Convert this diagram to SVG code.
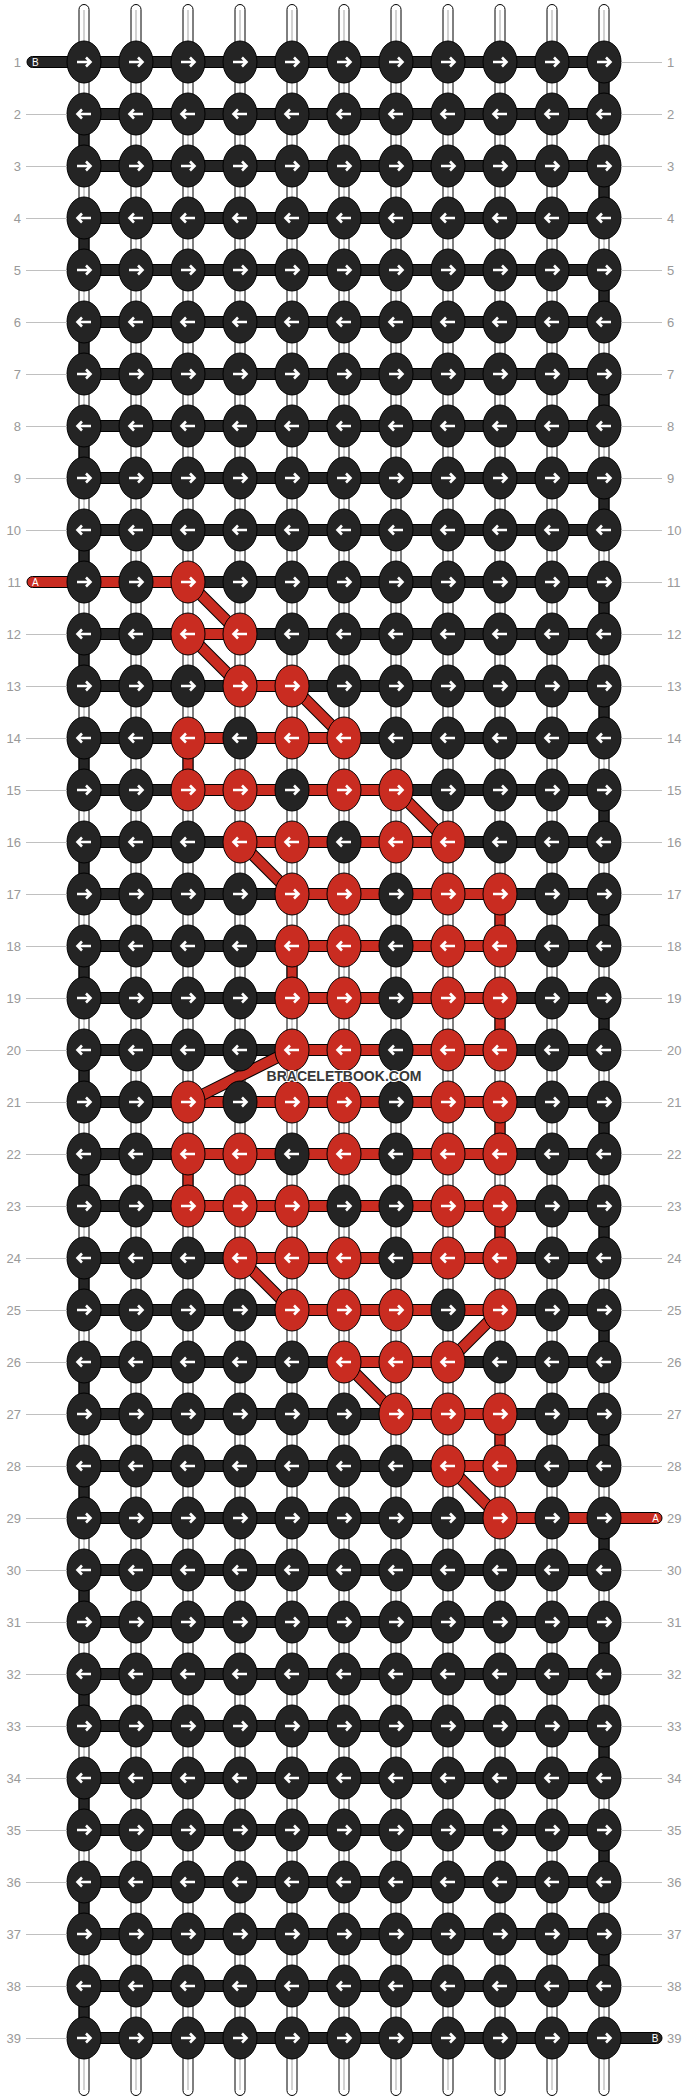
<svg xmlns="http://www.w3.org/2000/svg" xmlns:xlink="http://www.w3.org/1999/xlink" width="688" height="2100" viewBox="0 0 688 2100">
<style>
.w{fill:#fff;stroke:#000;stroke-width:1}
.gl{stroke:#c8c8c8;stroke-width:1.6}
.d{fill:#242424;stroke:#000;stroke-width:1}
.r{fill:#c92c21;stroke:#000;stroke-width:1}
.dgo{stroke:#000;stroke-width:12;fill:none}
.dgi{stroke:#c92c21;stroke-width:10;fill:none}
.ar{fill:none;stroke:#fff;stroke-width:2.6}
.n{font-family:"Liberation Sans",Arial,sans-serif;font-size:13px;fill:#999}
.nl{text-anchor:end}
.ln{stroke:#c0c0c0;stroke-width:1}
.pt{font-family:"Liberation Sans",Arial,sans-serif;font-size:10px;fill:#fff}
.wm{font-family:"Liberation Sans",Arial,sans-serif;font-weight:bold;font-size:15px;fill:#383838;stroke:#fff;stroke-width:2;paint-order:stroke;text-anchor:middle}
</style>
<defs>
<path id="aR" class="ar" d="M-7 0H6.5M2-4.5L6.5 0L2 4.5"/>
<path id="aL" class="ar" d="M7 0H-6.5M-2-4.5L-6.5 0L-2 4.5"/>
<g id="dR"><ellipse class="d" rx="17" ry="21"/><use href="#aR"/></g>
<g id="dL"><ellipse class="d" rx="17" ry="21"/><use href="#aL"/></g>
<g id="rR"><ellipse class="r" rx="17" ry="21"/><use href="#aR"/></g>
<g id="rL"><ellipse class="r" rx="17" ry="21"/><use href="#aL"/></g>
</defs>
<g id="warps">
<rect class="w" x="79" y="4.5" width="10" height="2091" rx="5"/>
<rect class="w" x="131" y="4.5" width="10" height="2091" rx="5"/>
<rect class="w" x="183" y="4.5" width="10" height="2091" rx="5"/>
<rect class="w" x="235" y="4.5" width="10" height="2091" rx="5"/>
<rect class="w" x="287" y="4.5" width="10" height="2091" rx="5"/>
<rect class="w" x="339" y="4.5" width="10" height="2091" rx="5"/>
<rect class="w" x="391" y="4.5" width="10" height="2091" rx="5"/>
<rect class="w" x="443" y="4.5" width="10" height="2091" rx="5"/>
<rect class="w" x="495" y="4.5" width="10" height="2091" rx="5"/>
<rect class="w" x="547" y="4.5" width="10" height="2091" rx="5"/>
<rect class="w" x="599" y="4.5" width="10" height="2091" rx="5"/>
<line class="gl" x1="84" y1="10" x2="84" y2="2090"/>
<line class="gl" x1="136" y1="10" x2="136" y2="2090"/>
<line class="gl" x1="188" y1="10" x2="188" y2="2090"/>
<line class="gl" x1="240" y1="10" x2="240" y2="2090"/>
<line class="gl" x1="292" y1="10" x2="292" y2="2090"/>
<line class="gl" x1="344" y1="10" x2="344" y2="2090"/>
<line class="gl" x1="396" y1="10" x2="396" y2="2090"/>
<line class="gl" x1="448" y1="10" x2="448" y2="2090"/>
<line class="gl" x1="500" y1="10" x2="500" y2="2090"/>
<line class="gl" x1="552" y1="10" x2="552" y2="2090"/>
<line class="gl" x1="604" y1="10" x2="604" y2="2090"/>
</g>
<g id="connectors">
<!-- edge turns -->
<rect class="d" x="79" y="114" width="10" height="52"/>
<rect class="d" x="79" y="218" width="10" height="52"/>
<rect class="d" x="79" y="322" width="10" height="52"/>
<rect class="d" x="79" y="426" width="10" height="52"/>
<rect class="d" x="79" y="530" width="10" height="52"/>
<rect class="d" x="79" y="634" width="10" height="52"/>
<rect class="d" x="79" y="738" width="10" height="52"/>
<rect class="d" x="79" y="842" width="10" height="52"/>
<rect class="d" x="79" y="946" width="10" height="52"/>
<rect class="d" x="79" y="1050" width="10" height="52"/>
<rect class="d" x="79" y="1154" width="10" height="52"/>
<rect class="d" x="79" y="1258" width="10" height="52"/>
<rect class="d" x="79" y="1362" width="10" height="52"/>
<rect class="d" x="79" y="1466" width="10" height="52"/>
<rect class="d" x="79" y="1570" width="10" height="52"/>
<rect class="d" x="79" y="1674" width="10" height="52"/>
<rect class="d" x="79" y="1778" width="10" height="52"/>
<rect class="d" x="79" y="1882" width="10" height="52"/>
<rect class="d" x="79" y="1986" width="10" height="52"/>
<rect class="d" x="599" y="62" width="10" height="52"/>
<rect class="d" x="599" y="166" width="10" height="52"/>
<rect class="d" x="599" y="270" width="10" height="52"/>
<rect class="d" x="599" y="374" width="10" height="52"/>
<rect class="d" x="599" y="478" width="10" height="52"/>
<rect class="d" x="599" y="582" width="10" height="52"/>
<rect class="d" x="599" y="686" width="10" height="52"/>
<rect class="d" x="599" y="790" width="10" height="52"/>
<rect class="d" x="599" y="894" width="10" height="52"/>
<rect class="d" x="599" y="998" width="10" height="52"/>
<rect class="d" x="599" y="1102" width="10" height="52"/>
<rect class="d" x="599" y="1206" width="10" height="52"/>
<rect class="d" x="599" y="1310" width="10" height="52"/>
<rect class="d" x="599" y="1414" width="10" height="52"/>
<rect class="d" x="599" y="1518" width="10" height="52"/>
<rect class="d" x="599" y="1622" width="10" height="52"/>
<rect class="d" x="599" y="1726" width="10" height="52"/>
<rect class="d" x="599" y="1830" width="10" height="52"/>
<rect class="d" x="599" y="1934" width="10" height="52"/>
<!-- red vertical -->
<rect class="r" x="183" y="738" width="10" height="52"/>
<rect class="r" x="495" y="894" width="10" height="52"/>
<rect class="r" x="287" y="946" width="10" height="52"/>
<rect class="r" x="495" y="998" width="10" height="52"/>
<rect class="r" x="495" y="1102" width="10" height="52"/>
<rect class="r" x="183" y="1154" width="10" height="52"/>
<rect class="r" x="495" y="1206" width="10" height="52"/>
<rect class="r" x="495" y="1414" width="10" height="52"/>
<!-- horizontal dark rows -->
<rect class="d" x="27" y="56.5" width="577" height="11" rx="5.5"/>
<rect class="d" x="84" y="108.5" width="520" height="11"/>
<rect class="d" x="84" y="160.5" width="520" height="11"/>
<rect class="d" x="84" y="212.5" width="520" height="11"/>
<rect class="d" x="84" y="264.5" width="520" height="11"/>
<rect class="d" x="84" y="316.5" width="520" height="11"/>
<rect class="d" x="84" y="368.5" width="520" height="11"/>
<rect class="d" x="84" y="420.5" width="520" height="11"/>
<rect class="d" x="84" y="472.5" width="520" height="11"/>
<rect class="d" x="84" y="524.5" width="520" height="11"/>
<rect class="d" x="84" y="576.5" width="520" height="11"/>
<rect class="d" x="84" y="628.5" width="520" height="11"/>
<rect class="d" x="84" y="680.5" width="520" height="11"/>
<rect class="d" x="84" y="732.5" width="520" height="11"/>
<rect class="d" x="84" y="784.5" width="520" height="11"/>
<rect class="d" x="84" y="836.5" width="520" height="11"/>
<rect class="d" x="84" y="888.5" width="520" height="11"/>
<rect class="d" x="84" y="940.5" width="520" height="11"/>
<rect class="d" x="84" y="992.5" width="520" height="11"/>
<rect class="d" x="84" y="1044.5" width="520" height="11"/>
<rect class="d" x="84" y="1096.5" width="520" height="11"/>
<rect class="d" x="84" y="1148.5" width="520" height="11"/>
<rect class="d" x="84" y="1200.5" width="520" height="11"/>
<rect class="d" x="84" y="1252.5" width="520" height="11"/>
<rect class="d" x="84" y="1304.5" width="520" height="11"/>
<rect class="d" x="84" y="1356.5" width="520" height="11"/>
<rect class="d" x="84" y="1408.5" width="520" height="11"/>
<rect class="d" x="84" y="1460.5" width="520" height="11"/>
<rect class="d" x="84" y="1512.5" width="520" height="11"/>
<rect class="d" x="84" y="1564.5" width="520" height="11"/>
<rect class="d" x="84" y="1616.5" width="520" height="11"/>
<rect class="d" x="84" y="1668.5" width="520" height="11"/>
<rect class="d" x="84" y="1720.5" width="520" height="11"/>
<rect class="d" x="84" y="1772.5" width="520" height="11"/>
<rect class="d" x="84" y="1824.5" width="520" height="11"/>
<rect class="d" x="84" y="1876.5" width="520" height="11"/>
<rect class="d" x="84" y="1928.5" width="520" height="11"/>
<rect class="d" x="84" y="1980.5" width="520" height="11"/>
<rect class="d" x="84" y="2032.5" width="578" height="11" rx="5.5"/>
<!-- horizontal red runs -->
<rect class="r" x="27" y="576.5" width="161" height="11" rx="5.5"/>
<rect class="r" x="188" y="628.5" width="52" height="11"/>
<rect class="r" x="240" y="680.5" width="52" height="11"/>
<rect class="r" x="188" y="732.5" width="156" height="11"/>
<rect class="r" x="188" y="784.5" width="208" height="11"/>
<rect class="r" x="240" y="836.5" width="208" height="11"/>
<rect class="r" x="292" y="888.5" width="208" height="11"/>
<rect class="r" x="292" y="940.5" width="208" height="11"/>
<rect class="r" x="292" y="992.5" width="208" height="11"/>
<rect class="r" x="292" y="1044.5" width="208" height="11"/>
<rect class="r" x="188" y="1096.5" width="312" height="11"/>
<rect class="r" x="188" y="1148.5" width="312" height="11"/>
<rect class="r" x="188" y="1200.5" width="312" height="11"/>
<rect class="r" x="240" y="1252.5" width="260" height="11"/>
<rect class="r" x="292" y="1304.5" width="208" height="11"/>
<rect class="r" x="344" y="1356.5" width="104" height="11"/>
<rect class="r" x="396" y="1408.5" width="104" height="11"/>
<rect class="r" x="448" y="1460.5" width="52" height="11"/>
<rect class="r" x="500" y="1512.5" width="162" height="11" rx="5.5"/>
<!-- diagonals -->
<path class="dgo" d="M188 582L240 634M188 634L240 686M292 686L344 738M396 790L448 842M240 842L292 894M292 1050L188 1102M240 1258L292 1310M500 1310L448 1362M344 1362L396 1414M448 1466L500 1518"/>
<path class="dgi" d="M188 582L240 634M188 634L240 686M292 686L344 738M396 790L448 842M240 842L292 894M292 1050L188 1102M240 1258L292 1310M500 1310L448 1362M344 1362L396 1414M448 1466L500 1518"/>
</g>
<g id="strand-labels">
<text class="pt" x="32" y="65.7">B</text>
<text class="pt" x="32" y="585.7">A</text>
<text class="pt" x="659" y="1521.7" text-anchor="end">A</text>
<text class="pt" x="658.5" y="2041.7" text-anchor="end">B</text>
</g>
<g id="knots">
<g id="k1-1"><use href="#dR" x="84" y="62"/></g><g id="k1-2"><use href="#dR" x="136" y="62"/></g><g id="k1-3"><use href="#dR" x="188" y="62"/></g><g id="k1-4"><use href="#dR" x="240" y="62"/></g><g id="k1-5"><use href="#dR" x="292" y="62"/></g><g id="k1-6"><use href="#dR" x="344" y="62"/></g><g id="k1-7"><use href="#dR" x="396" y="62"/></g><g id="k1-8"><use href="#dR" x="448" y="62"/></g><g id="k1-9"><use href="#dR" x="500" y="62"/></g><g id="k1-10"><use href="#dR" x="552" y="62"/></g><g id="k1-11"><use href="#dR" x="604" y="62"/></g>
<g id="k2-1"><use href="#dL" x="84" y="114"/></g><g id="k2-2"><use href="#dL" x="136" y="114"/></g><g id="k2-3"><use href="#dL" x="188" y="114"/></g><g id="k2-4"><use href="#dL" x="240" y="114"/></g><g id="k2-5"><use href="#dL" x="292" y="114"/></g><g id="k2-6"><use href="#dL" x="344" y="114"/></g><g id="k2-7"><use href="#dL" x="396" y="114"/></g><g id="k2-8"><use href="#dL" x="448" y="114"/></g><g id="k2-9"><use href="#dL" x="500" y="114"/></g><g id="k2-10"><use href="#dL" x="552" y="114"/></g><g id="k2-11"><use href="#dL" x="604" y="114"/></g>
<g id="k3-1"><use href="#dR" x="84" y="166"/></g><g id="k3-2"><use href="#dR" x="136" y="166"/></g><g id="k3-3"><use href="#dR" x="188" y="166"/></g><g id="k3-4"><use href="#dR" x="240" y="166"/></g><g id="k3-5"><use href="#dR" x="292" y="166"/></g><g id="k3-6"><use href="#dR" x="344" y="166"/></g><g id="k3-7"><use href="#dR" x="396" y="166"/></g><g id="k3-8"><use href="#dR" x="448" y="166"/></g><g id="k3-9"><use href="#dR" x="500" y="166"/></g><g id="k3-10"><use href="#dR" x="552" y="166"/></g><g id="k3-11"><use href="#dR" x="604" y="166"/></g>
<g id="k4-1"><use href="#dL" x="84" y="218"/></g><g id="k4-2"><use href="#dL" x="136" y="218"/></g><g id="k4-3"><use href="#dL" x="188" y="218"/></g><g id="k4-4"><use href="#dL" x="240" y="218"/></g><g id="k4-5"><use href="#dL" x="292" y="218"/></g><g id="k4-6"><use href="#dL" x="344" y="218"/></g><g id="k4-7"><use href="#dL" x="396" y="218"/></g><g id="k4-8"><use href="#dL" x="448" y="218"/></g><g id="k4-9"><use href="#dL" x="500" y="218"/></g><g id="k4-10"><use href="#dL" x="552" y="218"/></g><g id="k4-11"><use href="#dL" x="604" y="218"/></g>
<g id="k5-1"><use href="#dR" x="84" y="270"/></g><g id="k5-2"><use href="#dR" x="136" y="270"/></g><g id="k5-3"><use href="#dR" x="188" y="270"/></g><g id="k5-4"><use href="#dR" x="240" y="270"/></g><g id="k5-5"><use href="#dR" x="292" y="270"/></g><g id="k5-6"><use href="#dR" x="344" y="270"/></g><g id="k5-7"><use href="#dR" x="396" y="270"/></g><g id="k5-8"><use href="#dR" x="448" y="270"/></g><g id="k5-9"><use href="#dR" x="500" y="270"/></g><g id="k5-10"><use href="#dR" x="552" y="270"/></g><g id="k5-11"><use href="#dR" x="604" y="270"/></g>
<g id="k6-1"><use href="#dL" x="84" y="322"/></g><g id="k6-2"><use href="#dL" x="136" y="322"/></g><g id="k6-3"><use href="#dL" x="188" y="322"/></g><g id="k6-4"><use href="#dL" x="240" y="322"/></g><g id="k6-5"><use href="#dL" x="292" y="322"/></g><g id="k6-6"><use href="#dL" x="344" y="322"/></g><g id="k6-7"><use href="#dL" x="396" y="322"/></g><g id="k6-8"><use href="#dL" x="448" y="322"/></g><g id="k6-9"><use href="#dL" x="500" y="322"/></g><g id="k6-10"><use href="#dL" x="552" y="322"/></g><g id="k6-11"><use href="#dL" x="604" y="322"/></g>
<g id="k7-1"><use href="#dR" x="84" y="374"/></g><g id="k7-2"><use href="#dR" x="136" y="374"/></g><g id="k7-3"><use href="#dR" x="188" y="374"/></g><g id="k7-4"><use href="#dR" x="240" y="374"/></g><g id="k7-5"><use href="#dR" x="292" y="374"/></g><g id="k7-6"><use href="#dR" x="344" y="374"/></g><g id="k7-7"><use href="#dR" x="396" y="374"/></g><g id="k7-8"><use href="#dR" x="448" y="374"/></g><g id="k7-9"><use href="#dR" x="500" y="374"/></g><g id="k7-10"><use href="#dR" x="552" y="374"/></g><g id="k7-11"><use href="#dR" x="604" y="374"/></g>
<g id="k8-1"><use href="#dL" x="84" y="426"/></g><g id="k8-2"><use href="#dL" x="136" y="426"/></g><g id="k8-3"><use href="#dL" x="188" y="426"/></g><g id="k8-4"><use href="#dL" x="240" y="426"/></g><g id="k8-5"><use href="#dL" x="292" y="426"/></g><g id="k8-6"><use href="#dL" x="344" y="426"/></g><g id="k8-7"><use href="#dL" x="396" y="426"/></g><g id="k8-8"><use href="#dL" x="448" y="426"/></g><g id="k8-9"><use href="#dL" x="500" y="426"/></g><g id="k8-10"><use href="#dL" x="552" y="426"/></g><g id="k8-11"><use href="#dL" x="604" y="426"/></g>
<g id="k9-1"><use href="#dR" x="84" y="478"/></g><g id="k9-2"><use href="#dR" x="136" y="478"/></g><g id="k9-3"><use href="#dR" x="188" y="478"/></g><g id="k9-4"><use href="#dR" x="240" y="478"/></g><g id="k9-5"><use href="#dR" x="292" y="478"/></g><g id="k9-6"><use href="#dR" x="344" y="478"/></g><g id="k9-7"><use href="#dR" x="396" y="478"/></g><g id="k9-8"><use href="#dR" x="448" y="478"/></g><g id="k9-9"><use href="#dR" x="500" y="478"/></g><g id="k9-10"><use href="#dR" x="552" y="478"/></g><g id="k9-11"><use href="#dR" x="604" y="478"/></g>
<g id="k10-1"><use href="#dL" x="84" y="530"/></g><g id="k10-2"><use href="#dL" x="136" y="530"/></g><g id="k10-3"><use href="#dL" x="188" y="530"/></g><g id="k10-4"><use href="#dL" x="240" y="530"/></g><g id="k10-5"><use href="#dL" x="292" y="530"/></g><g id="k10-6"><use href="#dL" x="344" y="530"/></g><g id="k10-7"><use href="#dL" x="396" y="530"/></g><g id="k10-8"><use href="#dL" x="448" y="530"/></g><g id="k10-9"><use href="#dL" x="500" y="530"/></g><g id="k10-10"><use href="#dL" x="552" y="530"/></g><g id="k10-11"><use href="#dL" x="604" y="530"/></g>
<g id="k11-1"><use href="#dR" x="84" y="582"/></g><g id="k11-2"><use href="#dR" x="136" y="582"/></g><g id="k11-3"><use href="#rR" x="188" y="582"/></g><g id="k11-4"><use href="#dR" x="240" y="582"/></g><g id="k11-5"><use href="#dR" x="292" y="582"/></g><g id="k11-6"><use href="#dR" x="344" y="582"/></g><g id="k11-7"><use href="#dR" x="396" y="582"/></g><g id="k11-8"><use href="#dR" x="448" y="582"/></g><g id="k11-9"><use href="#dR" x="500" y="582"/></g><g id="k11-10"><use href="#dR" x="552" y="582"/></g><g id="k11-11"><use href="#dR" x="604" y="582"/></g>
<g id="k12-1"><use href="#dL" x="84" y="634"/></g><g id="k12-2"><use href="#dL" x="136" y="634"/></g><g id="k12-3"><use href="#rL" x="188" y="634"/></g><g id="k12-4"><use href="#rL" x="240" y="634"/></g><g id="k12-5"><use href="#dL" x="292" y="634"/></g><g id="k12-6"><use href="#dL" x="344" y="634"/></g><g id="k12-7"><use href="#dL" x="396" y="634"/></g><g id="k12-8"><use href="#dL" x="448" y="634"/></g><g id="k12-9"><use href="#dL" x="500" y="634"/></g><g id="k12-10"><use href="#dL" x="552" y="634"/></g><g id="k12-11"><use href="#dL" x="604" y="634"/></g>
<g id="k13-1"><use href="#dR" x="84" y="686"/></g><g id="k13-2"><use href="#dR" x="136" y="686"/></g><g id="k13-3"><use href="#dR" x="188" y="686"/></g><g id="k13-4"><use href="#rR" x="240" y="686"/></g><g id="k13-5"><use href="#rR" x="292" y="686"/></g><g id="k13-6"><use href="#dR" x="344" y="686"/></g><g id="k13-7"><use href="#dR" x="396" y="686"/></g><g id="k13-8"><use href="#dR" x="448" y="686"/></g><g id="k13-9"><use href="#dR" x="500" y="686"/></g><g id="k13-10"><use href="#dR" x="552" y="686"/></g><g id="k13-11"><use href="#dR" x="604" y="686"/></g>
<g id="k14-1"><use href="#dL" x="84" y="738"/></g><g id="k14-2"><use href="#dL" x="136" y="738"/></g><g id="k14-3"><use href="#rL" x="188" y="738"/></g><g id="k14-4"><use href="#dL" x="240" y="738"/></g><g id="k14-5"><use href="#rL" x="292" y="738"/></g><g id="k14-6"><use href="#rL" x="344" y="738"/></g><g id="k14-7"><use href="#dL" x="396" y="738"/></g><g id="k14-8"><use href="#dL" x="448" y="738"/></g><g id="k14-9"><use href="#dL" x="500" y="738"/></g><g id="k14-10"><use href="#dL" x="552" y="738"/></g><g id="k14-11"><use href="#dL" x="604" y="738"/></g>
<g id="k15-1"><use href="#dR" x="84" y="790"/></g><g id="k15-2"><use href="#dR" x="136" y="790"/></g><g id="k15-3"><use href="#rR" x="188" y="790"/></g><g id="k15-4"><use href="#rR" x="240" y="790"/></g><g id="k15-5"><use href="#dR" x="292" y="790"/></g><g id="k15-6"><use href="#rR" x="344" y="790"/></g><g id="k15-7"><use href="#rR" x="396" y="790"/></g><g id="k15-8"><use href="#dR" x="448" y="790"/></g><g id="k15-9"><use href="#dR" x="500" y="790"/></g><g id="k15-10"><use href="#dR" x="552" y="790"/></g><g id="k15-11"><use href="#dR" x="604" y="790"/></g>
<g id="k16-1"><use href="#dL" x="84" y="842"/></g><g id="k16-2"><use href="#dL" x="136" y="842"/></g><g id="k16-3"><use href="#dL" x="188" y="842"/></g><g id="k16-4"><use href="#rL" x="240" y="842"/></g><g id="k16-5"><use href="#rL" x="292" y="842"/></g><g id="k16-6"><use href="#dL" x="344" y="842"/></g><g id="k16-7"><use href="#rL" x="396" y="842"/></g><g id="k16-8"><use href="#rL" x="448" y="842"/></g><g id="k16-9"><use href="#dL" x="500" y="842"/></g><g id="k16-10"><use href="#dL" x="552" y="842"/></g><g id="k16-11"><use href="#dL" x="604" y="842"/></g>
<g id="k17-1"><use href="#dR" x="84" y="894"/></g><g id="k17-2"><use href="#dR" x="136" y="894"/></g><g id="k17-3"><use href="#dR" x="188" y="894"/></g><g id="k17-4"><use href="#dR" x="240" y="894"/></g><g id="k17-5"><use href="#rR" x="292" y="894"/></g><g id="k17-6"><use href="#rR" x="344" y="894"/></g><g id="k17-7"><use href="#dR" x="396" y="894"/></g><g id="k17-8"><use href="#rR" x="448" y="894"/></g><g id="k17-9"><use href="#rR" x="500" y="894"/></g><g id="k17-10"><use href="#dR" x="552" y="894"/></g><g id="k17-11"><use href="#dR" x="604" y="894"/></g>
<g id="k18-1"><use href="#dL" x="84" y="946"/></g><g id="k18-2"><use href="#dL" x="136" y="946"/></g><g id="k18-3"><use href="#dL" x="188" y="946"/></g><g id="k18-4"><use href="#dL" x="240" y="946"/></g><g id="k18-5"><use href="#rL" x="292" y="946"/></g><g id="k18-6"><use href="#rL" x="344" y="946"/></g><g id="k18-7"><use href="#dL" x="396" y="946"/></g><g id="k18-8"><use href="#rL" x="448" y="946"/></g><g id="k18-9"><use href="#rL" x="500" y="946"/></g><g id="k18-10"><use href="#dL" x="552" y="946"/></g><g id="k18-11"><use href="#dL" x="604" y="946"/></g>
<g id="k19-1"><use href="#dR" x="84" y="998"/></g><g id="k19-2"><use href="#dR" x="136" y="998"/></g><g id="k19-3"><use href="#dR" x="188" y="998"/></g><g id="k19-4"><use href="#dR" x="240" y="998"/></g><g id="k19-5"><use href="#rR" x="292" y="998"/></g><g id="k19-6"><use href="#rR" x="344" y="998"/></g><g id="k19-7"><use href="#dR" x="396" y="998"/></g><g id="k19-8"><use href="#rR" x="448" y="998"/></g><g id="k19-9"><use href="#rR" x="500" y="998"/></g><g id="k19-10"><use href="#dR" x="552" y="998"/></g><g id="k19-11"><use href="#dR" x="604" y="998"/></g>
<g id="k20-1"><use href="#dL" x="84" y="1050"/></g><g id="k20-2"><use href="#dL" x="136" y="1050"/></g><g id="k20-3"><use href="#dL" x="188" y="1050"/></g><g id="k20-4"><use href="#dL" x="240" y="1050"/></g><g id="k20-5"><use href="#rL" x="292" y="1050"/></g><g id="k20-6"><use href="#rL" x="344" y="1050"/></g><g id="k20-7"><use href="#dL" x="396" y="1050"/></g><g id="k20-8"><use href="#rL" x="448" y="1050"/></g><g id="k20-9"><use href="#rL" x="500" y="1050"/></g><g id="k20-10"><use href="#dL" x="552" y="1050"/></g><g id="k20-11"><use href="#dL" x="604" y="1050"/></g>
<g id="k21-1"><use href="#dR" x="84" y="1102"/></g><g id="k21-2"><use href="#dR" x="136" y="1102"/></g><g id="k21-3"><use href="#rR" x="188" y="1102"/></g><g id="k21-4"><use href="#dR" x="240" y="1102"/></g><g id="k21-5"><use href="#rR" x="292" y="1102"/></g><g id="k21-6"><use href="#rR" x="344" y="1102"/></g><g id="k21-7"><use href="#dR" x="396" y="1102"/></g><g id="k21-8"><use href="#rR" x="448" y="1102"/></g><g id="k21-9"><use href="#rR" x="500" y="1102"/></g><g id="k21-10"><use href="#dR" x="552" y="1102"/></g><g id="k21-11"><use href="#dR" x="604" y="1102"/></g>
<g id="k22-1"><use href="#dL" x="84" y="1154"/></g><g id="k22-2"><use href="#dL" x="136" y="1154"/></g><g id="k22-3"><use href="#rL" x="188" y="1154"/></g><g id="k22-4"><use href="#rL" x="240" y="1154"/></g><g id="k22-5"><use href="#dL" x="292" y="1154"/></g><g id="k22-6"><use href="#rL" x="344" y="1154"/></g><g id="k22-7"><use href="#dL" x="396" y="1154"/></g><g id="k22-8"><use href="#rL" x="448" y="1154"/></g><g id="k22-9"><use href="#rL" x="500" y="1154"/></g><g id="k22-10"><use href="#dL" x="552" y="1154"/></g><g id="k22-11"><use href="#dL" x="604" y="1154"/></g>
<g id="k23-1"><use href="#dR" x="84" y="1206"/></g><g id="k23-2"><use href="#dR" x="136" y="1206"/></g><g id="k23-3"><use href="#rR" x="188" y="1206"/></g><g id="k23-4"><use href="#rR" x="240" y="1206"/></g><g id="k23-5"><use href="#rR" x="292" y="1206"/></g><g id="k23-6"><use href="#dR" x="344" y="1206"/></g><g id="k23-7"><use href="#dR" x="396" y="1206"/></g><g id="k23-8"><use href="#rR" x="448" y="1206"/></g><g id="k23-9"><use href="#rR" x="500" y="1206"/></g><g id="k23-10"><use href="#dR" x="552" y="1206"/></g><g id="k23-11"><use href="#dR" x="604" y="1206"/></g>
<g id="k24-1"><use href="#dL" x="84" y="1258"/></g><g id="k24-2"><use href="#dL" x="136" y="1258"/></g><g id="k24-3"><use href="#dL" x="188" y="1258"/></g><g id="k24-4"><use href="#rL" x="240" y="1258"/></g><g id="k24-5"><use href="#rL" x="292" y="1258"/></g><g id="k24-6"><use href="#rL" x="344" y="1258"/></g><g id="k24-7"><use href="#dL" x="396" y="1258"/></g><g id="k24-8"><use href="#rL" x="448" y="1258"/></g><g id="k24-9"><use href="#rL" x="500" y="1258"/></g><g id="k24-10"><use href="#dL" x="552" y="1258"/></g><g id="k24-11"><use href="#dL" x="604" y="1258"/></g>
<g id="k25-1"><use href="#dR" x="84" y="1310"/></g><g id="k25-2"><use href="#dR" x="136" y="1310"/></g><g id="k25-3"><use href="#dR" x="188" y="1310"/></g><g id="k25-4"><use href="#dR" x="240" y="1310"/></g><g id="k25-5"><use href="#rR" x="292" y="1310"/></g><g id="k25-6"><use href="#rR" x="344" y="1310"/></g><g id="k25-7"><use href="#rR" x="396" y="1310"/></g><g id="k25-8"><use href="#dR" x="448" y="1310"/></g><g id="k25-9"><use href="#rR" x="500" y="1310"/></g><g id="k25-10"><use href="#dR" x="552" y="1310"/></g><g id="k25-11"><use href="#dR" x="604" y="1310"/></g>
<g id="k26-1"><use href="#dL" x="84" y="1362"/></g><g id="k26-2"><use href="#dL" x="136" y="1362"/></g><g id="k26-3"><use href="#dL" x="188" y="1362"/></g><g id="k26-4"><use href="#dL" x="240" y="1362"/></g><g id="k26-5"><use href="#dL" x="292" y="1362"/></g><g id="k26-6"><use href="#rL" x="344" y="1362"/></g><g id="k26-7"><use href="#rL" x="396" y="1362"/></g><g id="k26-8"><use href="#rL" x="448" y="1362"/></g><g id="k26-9"><use href="#dL" x="500" y="1362"/></g><g id="k26-10"><use href="#dL" x="552" y="1362"/></g><g id="k26-11"><use href="#dL" x="604" y="1362"/></g>
<g id="k27-1"><use href="#dR" x="84" y="1414"/></g><g id="k27-2"><use href="#dR" x="136" y="1414"/></g><g id="k27-3"><use href="#dR" x="188" y="1414"/></g><g id="k27-4"><use href="#dR" x="240" y="1414"/></g><g id="k27-5"><use href="#dR" x="292" y="1414"/></g><g id="k27-6"><use href="#dR" x="344" y="1414"/></g><g id="k27-7"><use href="#rR" x="396" y="1414"/></g><g id="k27-8"><use href="#rR" x="448" y="1414"/></g><g id="k27-9"><use href="#rR" x="500" y="1414"/></g><g id="k27-10"><use href="#dR" x="552" y="1414"/></g><g id="k27-11"><use href="#dR" x="604" y="1414"/></g>
<g id="k28-1"><use href="#dL" x="84" y="1466"/></g><g id="k28-2"><use href="#dL" x="136" y="1466"/></g><g id="k28-3"><use href="#dL" x="188" y="1466"/></g><g id="k28-4"><use href="#dL" x="240" y="1466"/></g><g id="k28-5"><use href="#dL" x="292" y="1466"/></g><g id="k28-6"><use href="#dL" x="344" y="1466"/></g><g id="k28-7"><use href="#dL" x="396" y="1466"/></g><g id="k28-8"><use href="#rL" x="448" y="1466"/></g><g id="k28-9"><use href="#rL" x="500" y="1466"/></g><g id="k28-10"><use href="#dL" x="552" y="1466"/></g><g id="k28-11"><use href="#dL" x="604" y="1466"/></g>
<g id="k29-1"><use href="#dR" x="84" y="1518"/></g><g id="k29-2"><use href="#dR" x="136" y="1518"/></g><g id="k29-3"><use href="#dR" x="188" y="1518"/></g><g id="k29-4"><use href="#dR" x="240" y="1518"/></g><g id="k29-5"><use href="#dR" x="292" y="1518"/></g><g id="k29-6"><use href="#dR" x="344" y="1518"/></g><g id="k29-7"><use href="#dR" x="396" y="1518"/></g><g id="k29-8"><use href="#dR" x="448" y="1518"/></g><g id="k29-9"><use href="#rR" x="500" y="1518"/></g><g id="k29-10"><use href="#dR" x="552" y="1518"/></g><g id="k29-11"><use href="#dR" x="604" y="1518"/></g>
<g id="k30-1"><use href="#dL" x="84" y="1570"/></g><g id="k30-2"><use href="#dL" x="136" y="1570"/></g><g id="k30-3"><use href="#dL" x="188" y="1570"/></g><g id="k30-4"><use href="#dL" x="240" y="1570"/></g><g id="k30-5"><use href="#dL" x="292" y="1570"/></g><g id="k30-6"><use href="#dL" x="344" y="1570"/></g><g id="k30-7"><use href="#dL" x="396" y="1570"/></g><g id="k30-8"><use href="#dL" x="448" y="1570"/></g><g id="k30-9"><use href="#dL" x="500" y="1570"/></g><g id="k30-10"><use href="#dL" x="552" y="1570"/></g><g id="k30-11"><use href="#dL" x="604" y="1570"/></g>
<g id="k31-1"><use href="#dR" x="84" y="1622"/></g><g id="k31-2"><use href="#dR" x="136" y="1622"/></g><g id="k31-3"><use href="#dR" x="188" y="1622"/></g><g id="k31-4"><use href="#dR" x="240" y="1622"/></g><g id="k31-5"><use href="#dR" x="292" y="1622"/></g><g id="k31-6"><use href="#dR" x="344" y="1622"/></g><g id="k31-7"><use href="#dR" x="396" y="1622"/></g><g id="k31-8"><use href="#dR" x="448" y="1622"/></g><g id="k31-9"><use href="#dR" x="500" y="1622"/></g><g id="k31-10"><use href="#dR" x="552" y="1622"/></g><g id="k31-11"><use href="#dR" x="604" y="1622"/></g>
<g id="k32-1"><use href="#dL" x="84" y="1674"/></g><g id="k32-2"><use href="#dL" x="136" y="1674"/></g><g id="k32-3"><use href="#dL" x="188" y="1674"/></g><g id="k32-4"><use href="#dL" x="240" y="1674"/></g><g id="k32-5"><use href="#dL" x="292" y="1674"/></g><g id="k32-6"><use href="#dL" x="344" y="1674"/></g><g id="k32-7"><use href="#dL" x="396" y="1674"/></g><g id="k32-8"><use href="#dL" x="448" y="1674"/></g><g id="k32-9"><use href="#dL" x="500" y="1674"/></g><g id="k32-10"><use href="#dL" x="552" y="1674"/></g><g id="k32-11"><use href="#dL" x="604" y="1674"/></g>
<g id="k33-1"><use href="#dR" x="84" y="1726"/></g><g id="k33-2"><use href="#dR" x="136" y="1726"/></g><g id="k33-3"><use href="#dR" x="188" y="1726"/></g><g id="k33-4"><use href="#dR" x="240" y="1726"/></g><g id="k33-5"><use href="#dR" x="292" y="1726"/></g><g id="k33-6"><use href="#dR" x="344" y="1726"/></g><g id="k33-7"><use href="#dR" x="396" y="1726"/></g><g id="k33-8"><use href="#dR" x="448" y="1726"/></g><g id="k33-9"><use href="#dR" x="500" y="1726"/></g><g id="k33-10"><use href="#dR" x="552" y="1726"/></g><g id="k33-11"><use href="#dR" x="604" y="1726"/></g>
<g id="k34-1"><use href="#dL" x="84" y="1778"/></g><g id="k34-2"><use href="#dL" x="136" y="1778"/></g><g id="k34-3"><use href="#dL" x="188" y="1778"/></g><g id="k34-4"><use href="#dL" x="240" y="1778"/></g><g id="k34-5"><use href="#dL" x="292" y="1778"/></g><g id="k34-6"><use href="#dL" x="344" y="1778"/></g><g id="k34-7"><use href="#dL" x="396" y="1778"/></g><g id="k34-8"><use href="#dL" x="448" y="1778"/></g><g id="k34-9"><use href="#dL" x="500" y="1778"/></g><g id="k34-10"><use href="#dL" x="552" y="1778"/></g><g id="k34-11"><use href="#dL" x="604" y="1778"/></g>
<g id="k35-1"><use href="#dR" x="84" y="1830"/></g><g id="k35-2"><use href="#dR" x="136" y="1830"/></g><g id="k35-3"><use href="#dR" x="188" y="1830"/></g><g id="k35-4"><use href="#dR" x="240" y="1830"/></g><g id="k35-5"><use href="#dR" x="292" y="1830"/></g><g id="k35-6"><use href="#dR" x="344" y="1830"/></g><g id="k35-7"><use href="#dR" x="396" y="1830"/></g><g id="k35-8"><use href="#dR" x="448" y="1830"/></g><g id="k35-9"><use href="#dR" x="500" y="1830"/></g><g id="k35-10"><use href="#dR" x="552" y="1830"/></g><g id="k35-11"><use href="#dR" x="604" y="1830"/></g>
<g id="k36-1"><use href="#dL" x="84" y="1882"/></g><g id="k36-2"><use href="#dL" x="136" y="1882"/></g><g id="k36-3"><use href="#dL" x="188" y="1882"/></g><g id="k36-4"><use href="#dL" x="240" y="1882"/></g><g id="k36-5"><use href="#dL" x="292" y="1882"/></g><g id="k36-6"><use href="#dL" x="344" y="1882"/></g><g id="k36-7"><use href="#dL" x="396" y="1882"/></g><g id="k36-8"><use href="#dL" x="448" y="1882"/></g><g id="k36-9"><use href="#dL" x="500" y="1882"/></g><g id="k36-10"><use href="#dL" x="552" y="1882"/></g><g id="k36-11"><use href="#dL" x="604" y="1882"/></g>
<g id="k37-1"><use href="#dR" x="84" y="1934"/></g><g id="k37-2"><use href="#dR" x="136" y="1934"/></g><g id="k37-3"><use href="#dR" x="188" y="1934"/></g><g id="k37-4"><use href="#dR" x="240" y="1934"/></g><g id="k37-5"><use href="#dR" x="292" y="1934"/></g><g id="k37-6"><use href="#dR" x="344" y="1934"/></g><g id="k37-7"><use href="#dR" x="396" y="1934"/></g><g id="k37-8"><use href="#dR" x="448" y="1934"/></g><g id="k37-9"><use href="#dR" x="500" y="1934"/></g><g id="k37-10"><use href="#dR" x="552" y="1934"/></g><g id="k37-11"><use href="#dR" x="604" y="1934"/></g>
<g id="k38-1"><use href="#dL" x="84" y="1986"/></g><g id="k38-2"><use href="#dL" x="136" y="1986"/></g><g id="k38-3"><use href="#dL" x="188" y="1986"/></g><g id="k38-4"><use href="#dL" x="240" y="1986"/></g><g id="k38-5"><use href="#dL" x="292" y="1986"/></g><g id="k38-6"><use href="#dL" x="344" y="1986"/></g><g id="k38-7"><use href="#dL" x="396" y="1986"/></g><g id="k38-8"><use href="#dL" x="448" y="1986"/></g><g id="k38-9"><use href="#dL" x="500" y="1986"/></g><g id="k38-10"><use href="#dL" x="552" y="1986"/></g><g id="k38-11"><use href="#dL" x="604" y="1986"/></g>
<g id="k39-1"><use href="#dR" x="84" y="2038"/></g><g id="k39-2"><use href="#dR" x="136" y="2038"/></g><g id="k39-3"><use href="#dR" x="188" y="2038"/></g><g id="k39-4"><use href="#dR" x="240" y="2038"/></g><g id="k39-5"><use href="#dR" x="292" y="2038"/></g><g id="k39-6"><use href="#dR" x="344" y="2038"/></g><g id="k39-7"><use href="#dR" x="396" y="2038"/></g><g id="k39-8"><use href="#dR" x="448" y="2038"/></g><g id="k39-9"><use href="#dR" x="500" y="2038"/></g><g id="k39-10"><use href="#dR" x="552" y="2038"/></g><g id="k39-11"><use href="#dR" x="604" y="2038"/></g>
</g>
<g id="row-lines">
<path class="ln" d="M26 114.5H67M26 166.5H67M26 218.5H67M26 270.5H67M26 322.5H67M26 374.5H67M26 426.5H67M26 478.5H67M26 530.5H67M26 634.5H67M26 686.5H67M26 738.5H67M26 790.5H67M26 842.5H67M26 894.5H67M26 946.5H67M26 998.5H67M26 1050.5H67M26 1102.5H67M26 1154.5H67M26 1206.5H67M26 1258.5H67M26 1310.5H67M26 1362.5H67M26 1414.5H67M26 1466.5H67M26 1518.5H67M26 1570.5H67M26 1622.5H67M26 1674.5H67M26 1726.5H67M26 1778.5H67M26 1830.5H67M26 1882.5H67M26 1934.5H67M26 1986.5H67M26 2038.5H67"/>
<path class="ln" d="M621 62.5H662M621 114.5H662M621 166.5H662M621 218.5H662M621 270.5H662M621 322.5H662M621 374.5H662M621 426.5H662M621 478.5H662M621 530.5H662M621 582.5H662M621 634.5H662M621 686.5H662M621 738.5H662M621 790.5H662M621 842.5H662M621 894.5H662M621 946.5H662M621 998.5H662M621 1050.5H662M621 1102.5H662M621 1154.5H662M621 1206.5H662M621 1258.5H662M621 1310.5H662M621 1362.5H662M621 1414.5H662M621 1466.5H662M621 1570.5H662M621 1622.5H662M621 1674.5H662M621 1726.5H662M621 1778.5H662M621 1830.5H662M621 1882.5H662M621 1934.5H662M621 1986.5H662"/>
</g>
<g id="row-numbers" class="n">
<text class="nl" x="21" y="66.5">1</text><text class="nl" x="21" y="118.5">2</text><text class="nl" x="21" y="170.5">3</text><text class="nl" x="21" y="222.5">4</text><text class="nl" x="21" y="274.5">5</text><text class="nl" x="21" y="326.5">6</text><text class="nl" x="21" y="378.5">7</text><text class="nl" x="21" y="430.5">8</text><text class="nl" x="21" y="482.5">9</text><text class="nl" x="21" y="534.5">10</text><text class="nl" x="21" y="586.5">11</text><text class="nl" x="21" y="638.5">12</text><text class="nl" x="21" y="690.5">13</text><text class="nl" x="21" y="742.5">14</text><text class="nl" x="21" y="794.5">15</text><text class="nl" x="21" y="846.5">16</text><text class="nl" x="21" y="898.5">17</text><text class="nl" x="21" y="950.5">18</text><text class="nl" x="21" y="1002.5">19</text><text class="nl" x="21" y="1054.5">20</text><text class="nl" x="21" y="1106.5">21</text><text class="nl" x="21" y="1158.5">22</text><text class="nl" x="21" y="1210.5">23</text><text class="nl" x="21" y="1262.5">24</text><text class="nl" x="21" y="1314.5">25</text><text class="nl" x="21" y="1366.5">26</text><text class="nl" x="21" y="1418.5">27</text><text class="nl" x="21" y="1470.5">28</text><text class="nl" x="21" y="1522.5">29</text><text class="nl" x="21" y="1574.5">30</text><text class="nl" x="21" y="1626.5">31</text><text class="nl" x="21" y="1678.5">32</text><text class="nl" x="21" y="1730.5">33</text><text class="nl" x="21" y="1782.5">34</text><text class="nl" x="21" y="1834.5">35</text><text class="nl" x="21" y="1886.5">36</text><text class="nl" x="21" y="1938.5">37</text><text class="nl" x="21" y="1990.5">38</text><text class="nl" x="21" y="2042.5">39</text>
<text x="667" y="66.5">1</text><text x="667" y="118.5">2</text><text x="667" y="170.5">3</text><text x="667" y="222.5">4</text><text x="667" y="274.5">5</text><text x="667" y="326.5">6</text><text x="667" y="378.5">7</text><text x="667" y="430.5">8</text><text x="667" y="482.5">9</text><text x="667" y="534.5">10</text><text x="667" y="586.5">11</text><text x="667" y="638.5">12</text><text x="667" y="690.5">13</text><text x="667" y="742.5">14</text><text x="667" y="794.5">15</text><text x="667" y="846.5">16</text><text x="667" y="898.5">17</text><text x="667" y="950.5">18</text><text x="667" y="1002.5">19</text><text x="667" y="1054.5">20</text><text x="667" y="1106.5">21</text><text x="667" y="1158.5">22</text><text x="667" y="1210.5">23</text><text x="667" y="1262.5">24</text><text x="667" y="1314.5">25</text><text x="667" y="1366.5">26</text><text x="667" y="1418.5">27</text><text x="667" y="1470.5">28</text><text x="667" y="1522.5">29</text><text x="667" y="1574.5">30</text><text x="667" y="1626.5">31</text><text x="667" y="1678.5">32</text><text x="667" y="1730.5">33</text><text x="667" y="1782.5">34</text><text x="667" y="1834.5">35</text><text x="667" y="1886.5">36</text><text x="667" y="1938.5">37</text><text x="667" y="1990.5">38</text><text x="667" y="2042.5">39</text>
</g>
<text class="wm" x="344" y="1080.5" textLength="155" lengthAdjust="spacingAndGlyphs">BRACELETBOOK.COM</text>
</svg>
